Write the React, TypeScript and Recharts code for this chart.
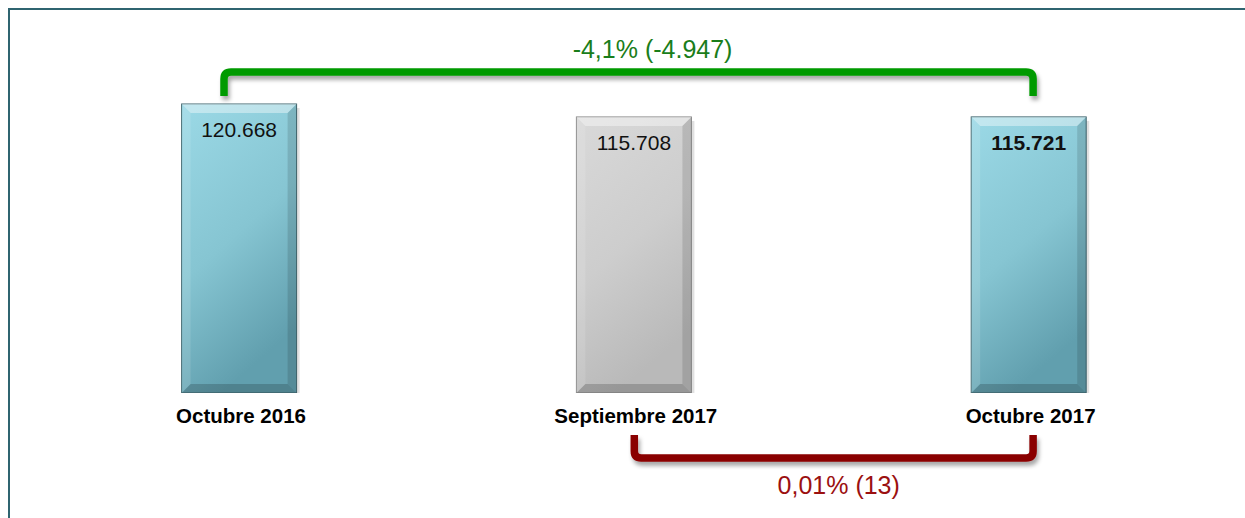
import { BarChart, Bar, XAxis, YAxis, Cell, LabelList, ReferenceLine } from 'recharts';

const categories = ['Octubre 2016', 'Septiembre 2017', 'Octubre 2017'];
const values = [120668, 115708, 115721];
const barFills = ['url(#tealBar)', 'url(#greyBar)', 'url(#tealBar)'];
const boldIndex = 2;

// variation brackets: from / to category, level on the value axis, caption
const totalChange = { from: 'Octubre 2016', to: 'Octubre 2017', level: 132900, text: '-4,1% (-4.947)' };
const monthChange = { from: 'Septiembre 2017', to: 'Octubre 2017', level: -14900, text: '0,01% (13)' };

const data = categories.map((name, i) => ({ name, value: values[i] }));

const FONT = '"Liberation Sans", Arial, sans-serif';

const fmt = (v: number) => String(v).replace(/\B(?=(\d{3})+(?!\d))/g, '.');

function BevelBar(props: any) {
  const { x, y, width: w, height: h, fill, index } = props;
  const b = 9;
  const edge = index === 1 ? '#8a8a8a' : '#41666e';
  return (
    <g>
      <rect x={x + 3} y={y + 4} width={w} height={h} fill="#000" opacity={0.12} />
      <rect x={x} y={y} width={w} height={h} fill={fill} stroke={edge} strokeWidth={1} />
      <polygon points={`${x},${y} ${x + w},${y} ${x + w - b},${y + b} ${x + b},${y + b}`} fill="#fff" opacity={0.4} />
      <polygon points={`${x},${y} ${x + b},${y + b} ${x + b},${y + h - b} ${x},${y + h}`} fill="#fff" opacity={0.12} />
      <polygon points={`${x + w},${y} ${x + w},${y + h} ${x + w - b},${y + h - b} ${x + w - b},${y + b}`} fill="#000" opacity={0.12} />
      <polygon points={`${x},${y + h} ${x + w},${y + h} ${x + w - b},${y + h - b} ${x + b},${y + h - b}`} fill="#000" opacity={0.18} />
    </g>
  );
}

function ValueLabel(props: any) {
  const { x, y, width, value, index } = props;
  return (
    <text
      x={x + width / 2}
      y={y + 33}
      textAnchor="middle"
      fontFamily={FONT}
      fontSize={21}
      fontWeight={index === boldIndex ? 'bold' : 'normal'}
      fill="#111"
    >
      {fmt(value)}
    </text>
  );
}

function CategoryTick(props: any) {
  const { x, y, payload } = props;
  return (
    <text x={x + 2} y={y + 30} textAnchor="middle" fontFamily={FONT} fontSize={20.5} fontWeight="bold" fill="#000">
      {payload.value}
    </text>
  );
}

function bracket(opts: {
  dir: number;
  leg: number;
  dxL: number;
  dxR: number;
  color: string;
  textColor: string;
  text: string;
  textDx: number;
  textDy: number;
}) {
  return (props: any) => {
    const { x1, y1, x2 } = props;
    const { dir, leg, dxL, dxR, color, textColor, text, textDx, textDy } = opts;
    const L = x1 + dxL;
    const R = x2 + dxR;
    const y = y1;
    const r = 7;
    const d =
      `M ${L} ${y + dir * leg} L ${L} ${y + dir * r} Q ${L} ${y} ${L + r} ${y} ` +
      `L ${R - r} ${y} Q ${R} ${y} ${R} ${y + dir * r} L ${R} ${y + dir * leg}`;
    return (
      <g>
        <path d={d} fill="none" stroke={color} strokeWidth={7.5} filter="url(#lineShadow)" />
        <text
          x={(L + R) / 2 + textDx}
          y={y + textDy}
          textAnchor="middle"
          fontFamily={FONT}
          fontSize={25}
          fill={textColor}
        >
          {text}
        </text>
      </g>
    );
  };
}

export default function App() {
  return (
    <div style={{ position: 'absolute', left: 0, top: 0, width: 1245, height: 518, overflow: 'hidden', background: '#fff' }}>
      <div
        style={{
          position: 'absolute',
          left: 8,
          top: 8,
          width: 1300,
          height: 600,
          border: '2px solid #2f6470',
          boxSizing: 'border-box',
        }}
      />
      <div style={{ position: 'absolute', left: 0, top: 0 }}>
        <BarChart
          width={1245}
          height={518}
          data={data}
          margin={{ top: 53.5, right: 19, left: 41.6, bottom: 85 }}
          barSize={115}
        >
          <defs>
            <linearGradient id="tealBar" x1="0" y1="0" x2="0.35" y2="1">
              <stop offset="0" stopColor="#9bd9e6" />
              <stop offset="0.55" stopColor="#86c5d2" />
              <stop offset="1" stopColor="#619fae" />
            </linearGradient>
            <linearGradient id="greyBar" x1="0" y1="0" x2="0.35" y2="1">
              <stop offset="0" stopColor="#d9d9d9" />
              <stop offset="0.55" stopColor="#cdcdcd" />
              <stop offset="1" stopColor="#b9b9b9" />
            </linearGradient>
            <filter id="lineShadow" x="-5%" y="-50%" width="110%" height="200%">
              <feDropShadow dx="2" dy="4" stdDeviation="2" floodColor="#000" floodOpacity="0.35" />
            </filter>
          </defs>
          <XAxis
            dataKey="name"
            axisLine={false}
            tickLine={false}
            tickSize={0}
            tickMargin={0}
            height={40}
            interval={0}
            tick={<CategoryTick />}
          />
          <YAxis hide domain={[10000, 140000]} allowDataOverflow />
          <Bar dataKey="value" shape={<BevelBar />} isAnimationActive={false}>
            {data.map((d, i) => (
              <Cell key={d.name} fill={barFills[i]} />
            ))}
            <LabelList dataKey="value" content={<ValueLabel />} />
          </Bar>
          <ReferenceLine
            ifOverflow="visible"
            segment={[
              { x: totalChange.from, y: totalChange.level },
              { x: totalChange.to, y: totalChange.level },
            ]}
            shape={bracket({
              dir: 1,
              leg: 24,
              dxL: -15,
              dxR: 4.5,
              color: '#009a00',
              textColor: '#1a7d1a',
              text: totalChange.text,
              textDx: 24,
              textDy: -14,
            })}
          />
          <ReferenceLine
            ifOverflow="visible"
            segment={[
              { x: monthChange.from, y: monthChange.level },
              { x: monthChange.to, y: monthChange.level },
            ]}
            shape={bracket({
              dir: -1,
              leg: 23,
              dxL: 0.5,
              dxR: 4.5,
              color: '#8a0000',
              textColor: '#9b1010',
              text: monthChange.text,
              textDx: 5,
              textDy: 36,
            })}
          />
        </BarChart>
      </div>
    </div>
  );
}
